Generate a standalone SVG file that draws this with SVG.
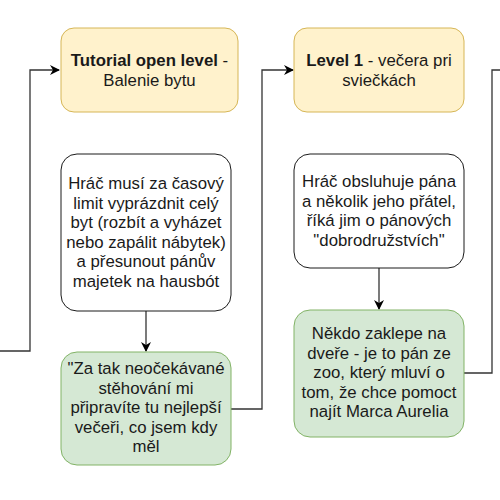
<svg xmlns="http://www.w3.org/2000/svg" width="500" height="500" viewBox="0 0 500 500">
<defs>
<style>
.t{font-family:"Liberation Sans",Arial,sans-serif;font-size:16.8px;fill:#1a1a1a;text-anchor:middle}
.b{font-weight:bold}
.y{fill:#fff2cc;stroke:#d6b656;stroke-width:1}
.g{fill:#d5e8d4;stroke:#82b366;stroke-width:1}
.w{fill:#ffffff;stroke:#1a1a1a;stroke-width:1}
.c{fill:none;stroke:#333333;stroke-width:1.3}
</style>
<marker id="ah" viewBox="0 0 10 10" refX="9" refY="5" markerWidth="10" markerHeight="10" markerUnits="userSpaceOnUse" orient="auto">
<path d="M0,0 L10,5 L0,10 L3,5 Z" fill="#000"/>
</marker>
</defs>
<g id="connectors">
<path class="c" d="M0,351 H30 V70 H59" marker-end="url(#ah)"/>
<path class="c" d="M146,311 V351" marker-end="url(#ah)"/>
<path class="c" d="M231,409 H262 V70 H293" marker-end="url(#ah)"/>
<path class="c" d="M379,268 V309" marker-end="url(#ah)"/>
<path class="c" d="M464,373 H492 V70 H500"/>
</g>
<g id="n1">
<rect class="y" x="61" y="28" width="177" height="84" rx="13"/>
<text class="t" x="149.5" y="66"><tspan class="b">Tutorial open level</tspan> -</text>
<text class="t" x="149.5" y="86">Balenie bytu</text>
</g>
<g id="n2">
<rect class="w" x="61" y="154" width="170" height="157" rx="16"/>
<text class="t" x="146" y="189">Hráč musí za časový</text>
<text class="t" x="146" y="208.5">limit vyprázdnit celý</text>
<text class="t" x="146" y="228">byt (rozbít a vyházet</text>
<text class="t" x="146" y="247.5">nebo zapálit nábytek)</text>
<text class="t" x="146" y="267">a přesunout pánův</text>
<text class="t" x="146" y="286.5">majetek na hausbót</text>
</g>
<g id="n3">
<rect class="g" x="61" y="352" width="170" height="113" rx="16"/>
<text class="t" x="146" y="374">"Za tak neočekávané</text>
<text class="t" x="146" y="393.5">stěhování mi</text>
<text class="t" x="146" y="413">připravíte tu nejlepší</text>
<text class="t" x="146" y="432.5">večeři, co jsem kdy</text>
<text class="t" x="146" y="452">měl</text>
</g>
<g id="n4">
<rect class="y" x="294" y="28" width="170" height="84" rx="13"/>
<text class="t" x="379" y="66"><tspan class="b">Level 1</tspan> - večera pri</text>
<text class="t" x="379" y="86">sviečkách</text>
</g>
<g id="n5">
<rect class="w" x="294" y="154" width="170" height="114" rx="16"/>
<text class="t" x="379" y="187">Hráč obsluhuje pána</text>
<text class="t" x="379" y="206.5">a několik jeho přátel,</text>
<text class="t" x="379" y="226">říká jim o pánových</text>
<text class="t" x="379" y="245.5">"dobrodružstvích"</text>
</g>
<g id="n6">
<rect class="g" x="294" y="310" width="170" height="127" rx="16"/>
<text class="t" x="379" y="339">Někdo zaklepe na</text>
<text class="t" x="379" y="358.5">dveře - je to pán ze</text>
<text class="t" x="379" y="378">zoo, který mluví o</text>
<text class="t" x="379" y="397.5">tom, že chce pomoct</text>
<text class="t" x="379" y="417">najít Marca Aurelia</text>
</g>
</svg>
